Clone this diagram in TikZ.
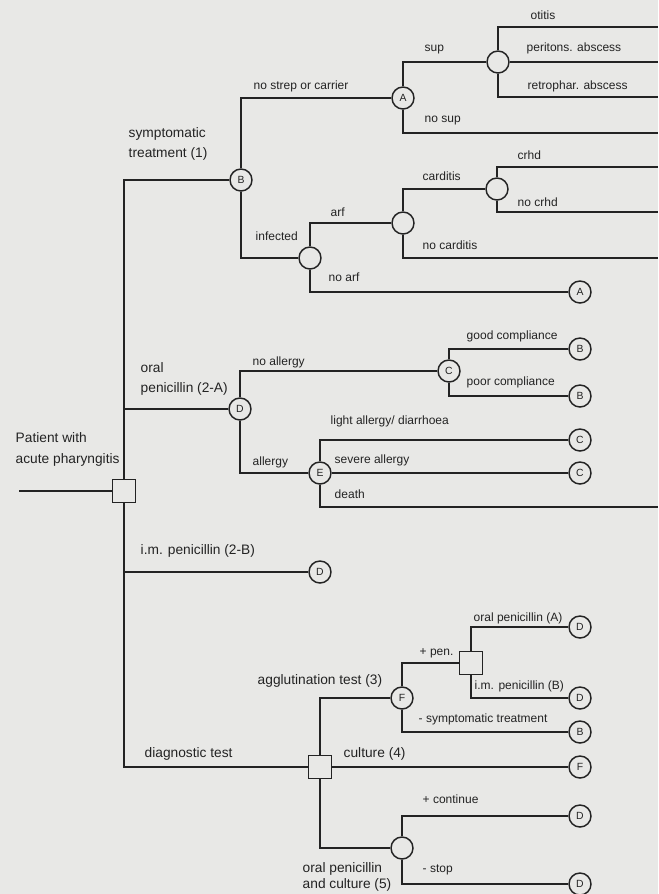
\documentclass[tikz,border=0pt]{standalone}
\usepackage{fontspec}
\setmainfont{Liberation Sans}
\definecolor{paper}{RGB}{232,232,230}
\definecolor{ink}{RGB}{35,35,35}

\begin{document}
\begin{tikzpicture}[x=0.75pt,y=-0.75pt,line width=1.1pt,ink,
  chance/.style={draw,circle,minimum size=16.5pt,inner sep=0pt,
    font=\fontsize{7.8}{8}\selectfont},
  choice/.style={draw,rectangle,minimum size=17pt,inner sep=0pt},
  lbl/.style={anchor=base west,inner sep=0pt,font=\fontsize{9}{10}\selectfont},
  big/.style={anchor=base west,inner sep=0pt,font=\fontsize{10.3}{12}\selectfont}]
\fill[paper] (0,0) rectangle (658,894);
\useasboundingbox (0,0) rectangle (658,894);

% nodes of the tree
\coordinate (in) at (19,491);
\node[choice] (root) at (124,491) {};
\node[chance] (B) at (241,180) {B};
\node[chance] (A) at (403,98) {A};
\node[chance] (sup) at (498,62) {};
\coordinate (otitis) at (658,27);
\coordinate (perit) at (658,62);
\coordinate (retro) at (658,97);
\coordinate (nosup) at (658,133);
\node[chance] (inf) at (310,258) {};
\node[chance] (arf) at (403,223) {};
\node[chance] (card) at (497,189) {};
\coordinate (crhd) at (658,167);
\coordinate (nocrhd) at (658,212);
\coordinate (nocard) at (658,258);
\node[chance] (noarf) at (580,292) {A};
\node[chance] (D) at (240,409) {D};
\node[chance] (C) at (449,371) {C};
\node[chance] (good) at (580,349) {B};
\node[chance] (poor) at (580,396) {B};
\node[chance] (E) at (320,473) {E};
\node[chance] (light) at (580,440) {C};
\node[chance] (severe) at (580,473) {C};
\coordinate (death) at (658,507);
\node[chance] (im) at (320,572) {D};
\node[choice] (test) at (320,767) {};
\node[chance] (F) at (402,698) {F};
\node[choice] (pen) at (471,663) {};
\node[chance] (penA) at (580,627) {D};
\node[chance] (penB) at (580,698) {D};
\node[chance] (symp) at (580,732) {B};
\node[chance] (cult) at (580,767) {F};
\node[chance] (oc) at (402,848) {};
\node[chance] (cont) at (580,816) {D};
\node[chance] (stop) at (580,884) {D};

% branches
\draw (in) -- (root);
\draw (root) |- (B);  \draw (root) |- (D);
\draw (root) |- (im); \draw (root) |- (test);
\draw (B) |- (A);     \draw (B) |- (inf);
\draw (A) |- (sup);   \draw (A) |- (nosup);
\draw (sup) |- (otitis); \draw (sup) -- (perit); \draw (sup) |- (retro);
\draw (inf) |- (arf); \draw (inf) |- (noarf);
\draw (arf) |- (card); \draw (arf) |- (nocard);
\draw (card) |- (crhd); \draw (card) |- (nocrhd);
\draw (D) |- (C);     \draw (D) |- (E);
\draw (C) |- (good);  \draw (C) |- (poor);
\draw (E) |- (light); \draw (E) -- (severe); \draw (E) |- (death);
\draw (test) |- (F);  \draw (test) -- (cult); \draw (test) |- (oc);
\draw (F) |- (pen);   \draw (F) |- (symp);
\draw (pen) |- (penA); \draw (pen) |- (penB);
\draw (oc) |- (cont); \draw (oc) |- (stop);

% labels
\node[big] (l1) at (15,442) {Patient with};
\node[big] (l2) at (15,463) {acute pharyngitis};
\node[big] (l3) at (128,137) {symptomatic};
\node[big] (l4) at (128,157) {treatment (1)};
\node[lbl] (l5) at (253,89) {no strep or carrier};
\node[lbl] (l6) at (424,51) {sup};
\node[lbl] (l7) at (530,19) {otitis};
\node[lbl] (l8) at (526,51) {peritons. abscess};
\node[lbl] (l9) at (527,89) {retrophar. abscess};
\node[lbl] (l10) at (424,122) {no sup};
\node[lbl] (l11) at (517,159) {crhd};
\node[lbl] (l12) at (422,180) {carditis};
\node[lbl] (l13) at (517,206) {no crhd};
\node[lbl] (l14) at (330,216) {arf};
\node[lbl] (l15) at (255,240) {infected};
\node[lbl] (l16) at (422,249) {no carditis};
\node[lbl] (l17) at (328,281) {no arf};
\node[big] (l18) at (140,372) {oral};
\node[big] (l19) at (140,392) {penicillin (2-A)};
\node[lbl] (l20) at (252,365) {no allergy};
\node[lbl] (l21) at (466,339) {good compliance};
\node[lbl] (l22) at (466,385) {poor compliance};
\node[lbl] (l23) at (330,424) {light allergy/ diarrhoea};
\node[lbl] (l24) at (252,465) {allergy};
\node[lbl] (l25) at (334,463) {severe allergy};
\node[lbl] (l26) at (334,498) {death};
\node[big] (l27) at (140,554) {i.m. penicillin (2-B)};
\node[big] (l28) at (144,757) {diagnostic test};
\node[big] (l29) at (257,684) {agglutination test (3)};
\node[big] (l30) at (343,757) {culture (4)};
\node[big] (l31) at (302,872) {oral penicillin};
\node[big] (l32) at (302,888) {and culture (5)};
\node[lbl] (l33) at (419,655) {+ pen.};
\node[lbl] (l34) at (473,621) {oral penicillin (A)};
\node[lbl] (l35) at (474,689) {i.m. penicillin (B)};
\node[lbl] (l36) at (418,722) {- symptomatic treatment};
\node[lbl] (l37) at (422,803) {+ continue};
\node[lbl] (l38) at (422,872) {- stop};
\end{tikzpicture}
\end{document}
